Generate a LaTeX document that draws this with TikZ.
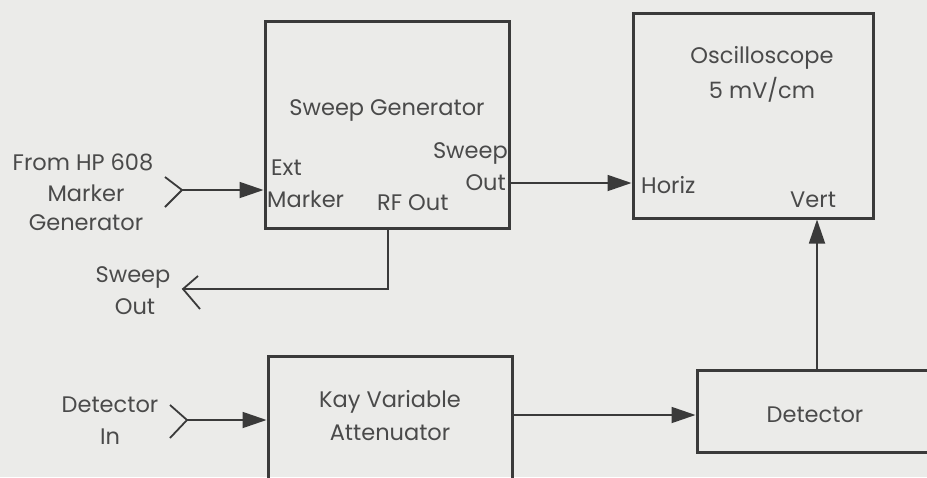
\documentclass[tikz,border=0pt]{standalone}
\usepackage{fontspec}
\setmainfont{Poppins}
\usetikzlibrary{arrows.meta}
\definecolor{bg}{HTML}{EBEBE9}
\definecolor{ink}{HTML}{3A3A3A}
\definecolor{txt}{HTML}{4A4A4A}
\tikzset{
  box/.style={draw=ink,line width=3pt,minimum width=#1,inner sep=0pt},
  wire/.style={draw=ink,line width=1.8pt},
  farrow/.style={wire,-{Triangle[length=24pt,width=16pt]}},
  lbl/.style={text=txt,font=\fontsize{22.5}{30}\selectfont,inner sep=0pt,align=center},
}
\begin{document}
\begin{tikzpicture}[x=1pt,y=-1pt]
\fill[bg] (0,0) rectangle (927,477);
\useasboundingbox (0,0) rectangle (927,477);
\clip (0,0) rectangle (927,477);
% boxes
\node[box=244pt,minimum height=207pt] (sg) at (387,124.5) {};
\node[box=240pt,minimum height=205pt] (osc) at (753,115.5) {};
\node[box=244pt,minimum height=140pt] (att) at (390,426) {};
\node[box=253pt,minimum height=82pt] (det) at (823.5,411) {};
% labels
\node[lbl] (sgt) at (387,110) {Sweep Generator};
\node[lbl,anchor=west] (ext) at (271,168) {Ext};
\node[lbl,anchor=west] (mk) at (267,199) {Marker};
\node[lbl,anchor=west] (rf) at (377,203) {RF Out};
\node[lbl,anchor=east] (swp) at (508,153) {Sweep};
\node[lbl,anchor=east] (so) at (506,183) {Out};
\node[lbl] (from) at (83,162) {From HP 608};
\node[lbl] (mkg) at (86,193) {Marker};
\node[lbl] (gen) at (86,223) {Generator};
\node[lbl] (osct) at (762,58) {Oscilloscope};
\node[lbl] (mv) at (762,90) {5 mV/cm};
\node[lbl,anchor=west] (hz) at (641,185) {Horiz};
\node[lbl,anchor=west] (vt) at (790,200) {Vert};
\node[lbl] (swo) at (133,277) {Sweep};
\node[lbl] (swo2) at (135,307) {Out};
\node[lbl] (din) at (110,405) {Detector};
\node[lbl] (din2) at (110,437) {In};
\node[lbl] (kay) at (390,402) {Kay Variable};
\node[lbl] (attn) at (390,433) {Attenuator};
\node[lbl] (dett) at (815,415) {Detector};
% connector ends
\coordinate (f1) at (182,190);
\coordinate (f2) at (187,420);
\coordinate (rfx) at (388,228);
\coordinate (so1) at (183,289);
% ext marker input
\draw[wire,line join=miter] (165,177) -- (f1) -- (165,207);
\draw[farrow] (f1) -- (f1 -| sg.west);
% detector in
\draw[wire] (170,405) -- (f2) -- (170,438);
\draw[farrow] (f2) -- (f2 -| att.west);
% sweep out -> horiz
\coordinate (s1) at (sg.east |- 0,183);
\draw[farrow] (s1) -- (s1 -| osc.west);
% rf out -> sweep out
\draw[wire] (rfx |- sg.south) -- (rfx |- so1) -- (so1);
\draw[wire] (198,276) -- (so1) -- (200,309);
% attenuator -> detector
\coordinate (a1) at (att.east |- 0,415);
\draw[farrow] (a1) -- (a1 -| det.west);
% detector -> vert
\coordinate (d1) at (817,0);
\draw[farrow] (d1 |- det.north) -- (d1 |- osc.south);
\end{tikzpicture}
\end{document}
